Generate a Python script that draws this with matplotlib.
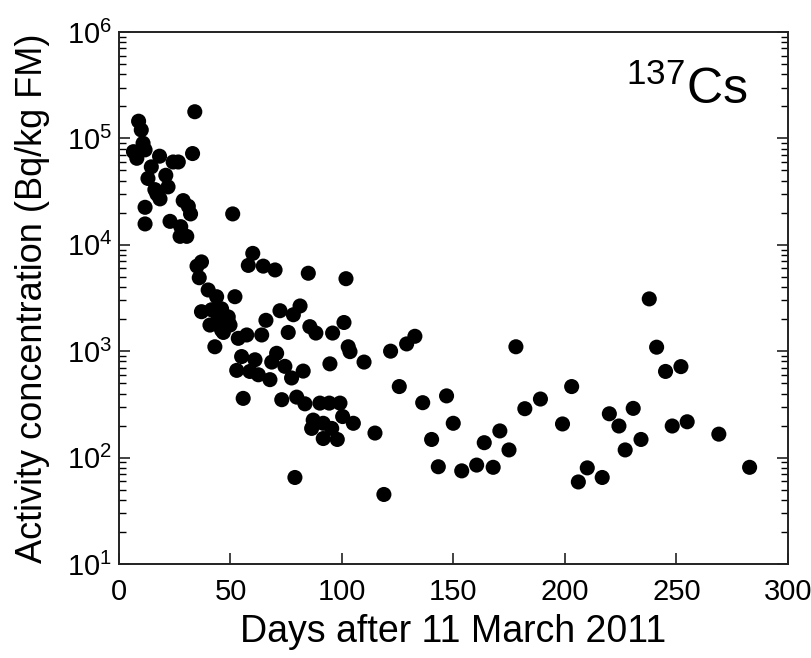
import numpy as np
import matplotlib
matplotlib.use("Agg")
from matplotlib import pyplot as plt
from matplotlib import font_manager
from matplotlib.ticker import LogLocator, LogFormatterMathtext, NullFormatter

plt.rcParams['font.family'] = ['Liberation Sans', 'DejaVu Sans']
plt.rcParams['mathtext.default'] = 'regular'

# narrow face for the tick numbers, if it is there
names = set(f.name for f in font_manager.fontManager.ttflist)
tick_font = 'Liberation Sans Narrow' if 'Liberation Sans Narrow' in names else 'Liberation Sans'

# Cs-137 activity vs days after 11 March 2011
days = [6.5, 8, 8.8, 10, 10.8, 11.7, 11.7, 11.7, 13, 14.5, 16.1, 17, 18.2, 18.4,
        21, 22, 22.9, 24.3, 26.6, 27.4, 27.7, 28.8, 30.4, 31.1, 32.1, 33, 34,
        35, 37, 36, 37, 40, 41.5, 40.8, 43, 43.8, 44.5, 46, 46, 46.8, 49, 49,
        49.8, 52, 51, 52.8, 53.5, 55, 55.7, 57.3, 58, 58.7, 60, 61, 62.5, 64,
        64.7, 65.9, 67.7, 68.5, 70, 70.7, 72.2, 73, 74.4, 75.9, 77.4, 78.2,
        78.9, 79.7, 81.2, 82.6, 83.4, 84.9, 85.6, 86.4, 87.1, 88.3, 90.1, 91.6,
        91.6, 94.3, 94.6, 95.4, 95.8, 97.9, 99.1, 100.3, 100.9, 101.8, 102.8,
        103.6, 105.1, 109.9, 114.8, 118.8, 121.8, 125.7, 129, 132.7, 136.2,
        140.2, 143.2, 146.9, 149.9, 153.7, 160.4, 163.8, 167.8, 170.8, 174.9,
        178, 182, 189, 198.9, 203, 206, 210, 216.7, 219.9, 224.2, 227, 230.6,
        234.1, 237.8, 241.1, 245.1, 248.1, 252, 254.8, 269, 282.8]
activity = [75000, 65000, 145000, 120000, 90000, 78000, 22500, 15700, 42000,
            54000, 33000, 30000, 68000, 27000, 45000, 35000, 16600, 60000,
            60000, 12000, 14800, 26000, 12000, 23000, 19500, 72000, 178000,
            6300, 6900, 4900, 2350, 3760, 2450, 1760, 1100, 3250, 2040, 2500,
            1580, 1500, 1900, 2100, 1760, 3250, 19500, 660, 1320, 890, 360,
            1420, 6400, 645, 8300, 830, 600, 1420, 6300, 1950, 540, 790, 5800,
            955, 2400, 350, 720, 1500, 560, 2200, 65, 370, 2660, 650, 320,
            5400, 1700, 188, 225, 1480, 325, 210, 151, 325, 760, 188, 1480,
            148, 325, 243, 1860, 4800, 1100, 990, 210, 790, 170, 45, 1000,
            465, 1170, 1380, 328, 148, 82, 380, 210, 75, 85, 138, 81, 178,
            118, 1100, 288, 355, 207, 465, 59, 80, 65, 258, 198, 118, 290, 148,
            3100, 1090, 645, 198, 716, 217, 166, 81]

x_ticks = [0, 50, 100, 150, 200, 250, 300]

fig = plt.figure(figsize=(8.11, 6.58), dpi=100)
ax = fig.add_axes([0.1467, 0.1429, 0.8249, 0.8085])

ax.scatter(days, activity, s=118, c='black', edgecolors='none', zorder=3)

ax.set_yscale('log')
ax.set_xlim(0, 300)
ax.set_ylim(10, 1e6)
ax.set_xticks(x_ticks)
ax.yaxis.set_major_locator(LogLocator(base=10, numticks=10))
ax.yaxis.set_major_formatter(LogFormatterMathtext())
ax.yaxis.set_minor_locator(LogLocator(base=10, subs=np.arange(2, 10), numticks=10))
ax.yaxis.set_minor_formatter(NullFormatter())

for side in ax.spines.values():
    side.set_linewidth(1.4)
    side.set_color('#222222')

ax.tick_params(axis='both', which='major', direction='in', length=8, width=1.2,
               labelsize=21, colors='#222222', labelcolor='black')
ax.tick_params(axis='y', which='both', left=True, right=True)
ax.tick_params(axis='y', which='minor', direction='in', length=5, width=1.0)
ax.tick_params(axis='x', top=False, pad=10)
ax.tick_params(axis='y', pad=5)
for lab in ax.get_xticklabels() + ax.get_yticklabels():
    lab.set_family([tick_font, 'DejaVu Sans'])

ax.set_xlabel('Days after 11 March 2011', fontsize=27, labelpad=6)
ax.set_ylabel('Activity concentration (Bq/kg FM)', fontsize=26, labelpad=12)

ax.text(0.94, 0.865, '$^{137}$Cs', transform=ax.transAxes, ha='right',
        va='baseline', fontsize=36, family=[tick_font, 'DejaVu Sans'])

fig.savefig('out.png', dpi=100)
